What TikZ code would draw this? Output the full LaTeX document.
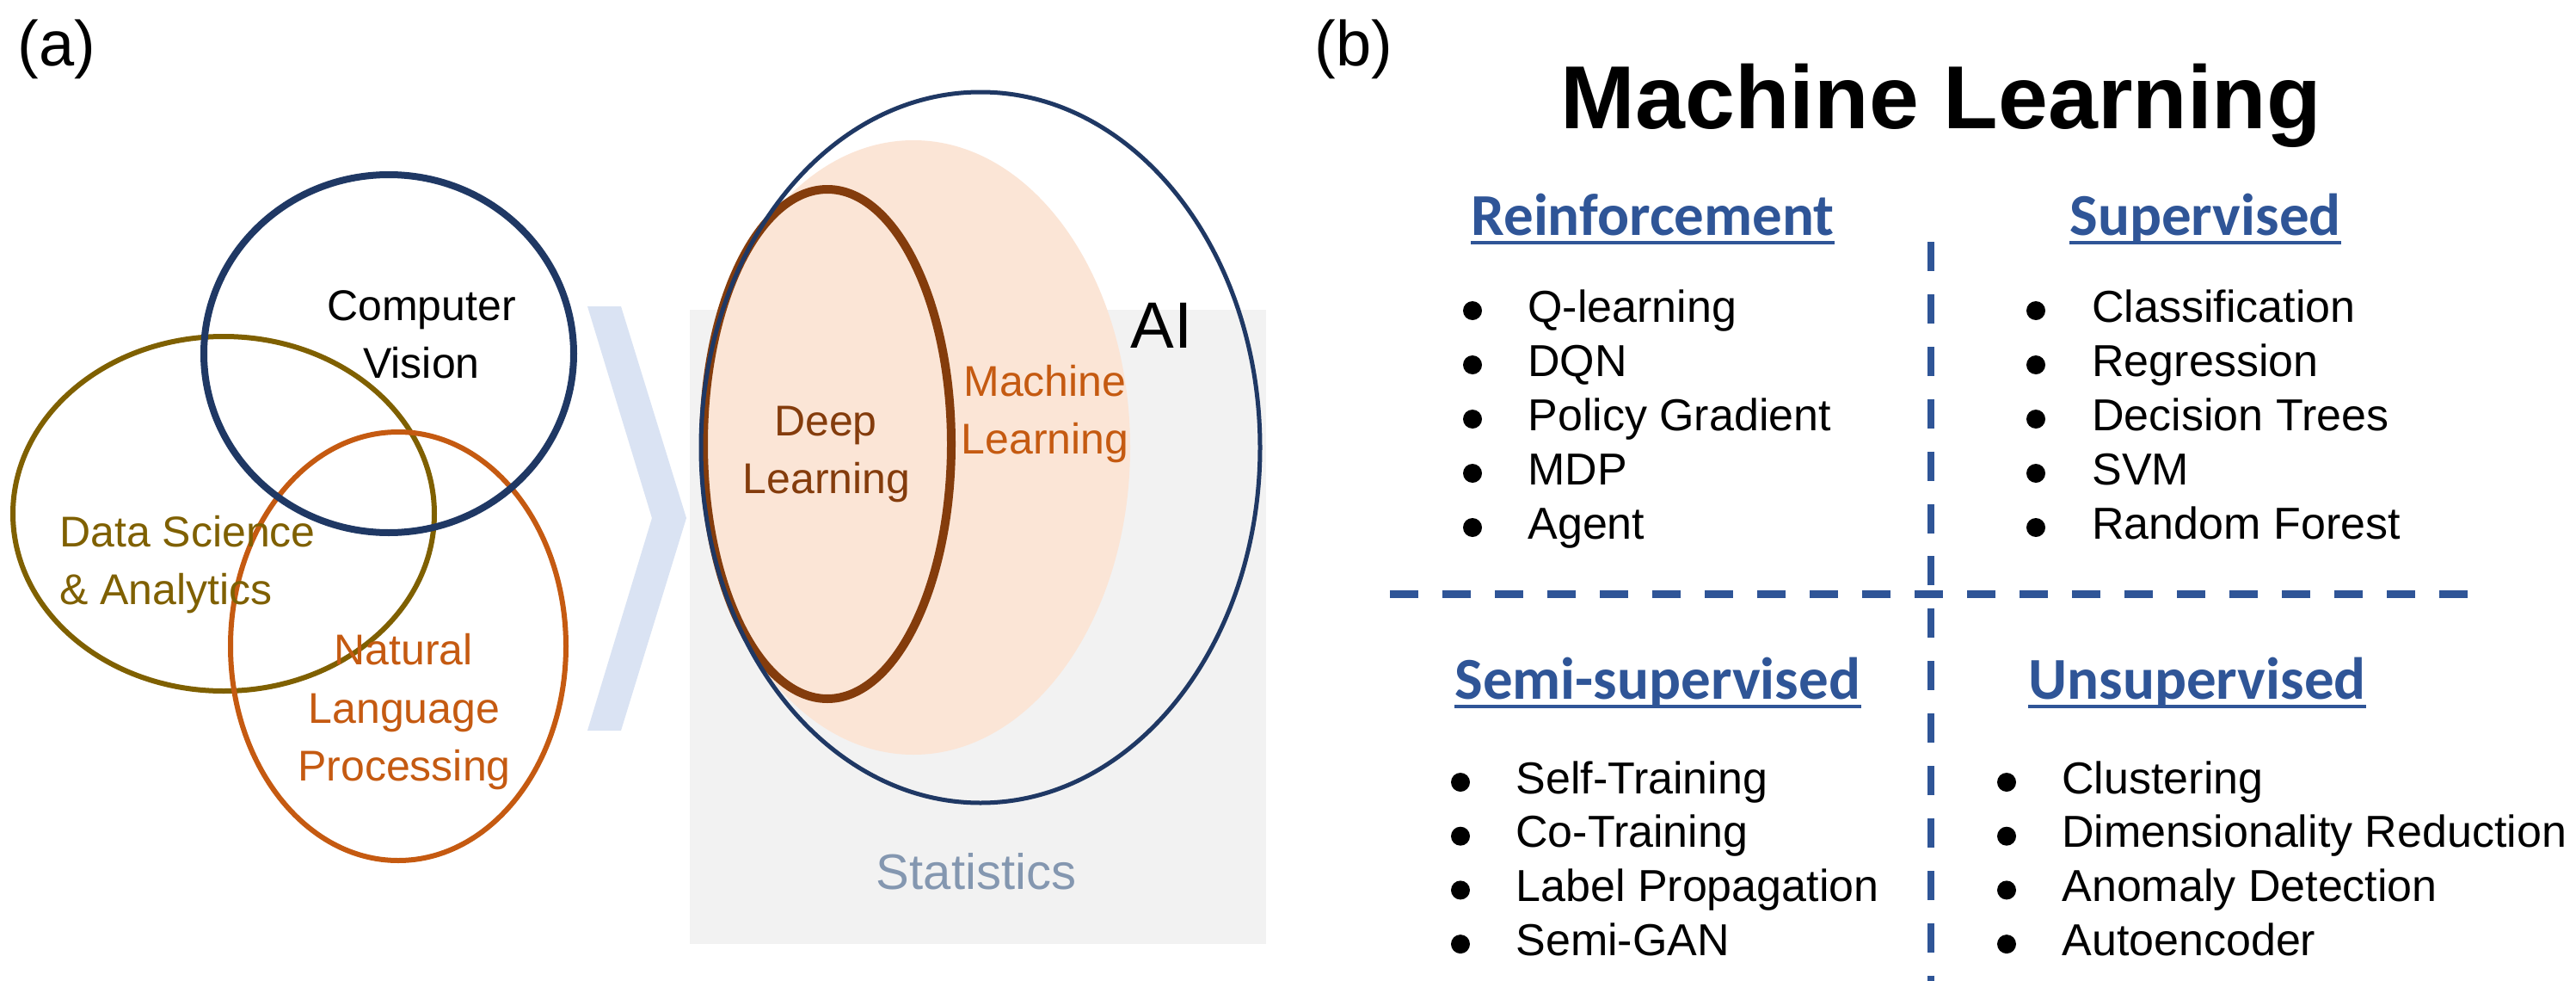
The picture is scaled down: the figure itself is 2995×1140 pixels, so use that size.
\documentclass[tikz,border=0pt]{standalone}
\usepackage{fontspec}
\setmainfont{Liberation Sans}
\newfontfamily\hdrfont{Carlito}
\definecolor{navy}{HTML}{1F3864}
\definecolor{olivec}{HTML}{7F6000}
\definecolor{nlporange}{HTML}{C55A11}
\definecolor{dlbrown}{HTML}{843C0C}
\definecolor{peach}{HTML}{FBE5D6}
\definecolor{statgray}{HTML}{F2F2F2}
\definecolor{chev}{HTML}{DAE3F3}
\definecolor{stattext}{HTML}{8497B0}
\definecolor{mlblue}{HTML}{2F5597}
\begin{document}
\begin{tikzpicture}[x=0.5pt,y=-0.5pt,
  lbl/.style={inner sep=0pt, anchor=base, font=\fontsize{25}{30}\selectfont},
  item/.style={inner sep=0pt, anchor=base west, font=\fontsize{26}{31}\selectfont},
  hdr/.style={inner sep=0pt, anchor=base west, text=mlblue, font=\hdrfont\bfseries\fontsize{34.5}{40}\selectfont},
  panel/.style={inner sep=0pt, anchor=base west, font=\fontsize{37}{44}\selectfont},
  uline/.style={draw=mlblue, line width=2.2pt},
  hdiv/.style={draw=mlblue, line width=4.5pt, dash pattern=on 16.5pt off 14pt},
  vdiv/.style={draw=mlblue, line width=4.3pt, dash pattern=on 17pt off 13.45pt},
  bulletdot/.style={fill=black}
]
\useasboundingbox (0,0) rectangle (2995,1140);
\fill[white] (0,0) rectangle (2995,1140);

% panel labels
\node[panel] (pa) at (20,76) {(a)};
\node[panel] (pb) at (1528,76) {(b)};

% ---------- panel (a) ----------
% chevron
\fill[chev] (683,356) -- (722,356) -- (798,602) -- (722,849) -- (683,849) -- (758,602) -- cycle;
% statistics background
\fill[statgray] (802,360) rectangle (1472,1097);

% Venn of fields
\draw[olivec, line width=3pt] (260,597) ellipse [x radius=245, y radius=206];
\draw[nlporange, line width=3pt] (463,751) ellipse [x radius=195, y radius=249];
\draw[navy, line width=4pt] (452,411) ellipse [x radius=215, y radius=208];

% nested AI / ML / DL
\begin{scope}
  \clip (1140,520) ellipse [x radius=325, y radius=413];
  \fill[peach] (1062,520) ellipse [x radius=252, y radius=357];
\end{scope}
\draw[dlbrown, line width=5pt] (962,516) ellipse [x radius=144, y radius=296];
\draw[navy, line width=2.5pt] (1140,520) ellipse [x radius=325, y radius=413];

% labels (a)
\node[lbl] (cv1) at (490,372) {Computer};
\node[lbl] (cv2) at (490,439) {Vision};
\node[lbl, anchor=base west, text=olivec] (ds1) at (69,635) {Data Science};
\node[lbl, anchor=base west, text=olivec] (ds2) at (69,702) {\& Analytics};
\node[lbl, text=nlporange] (nlp1) at (469,772) {Natural};
\node[lbl, text=nlporange] (nlp2) at (470,840) {Language};
\node[lbl, text=nlporange] (nlp3) at (470,907) {Processing};
\node[lbl, text=nlporange] (ml1) at (1215,460) {Machine};
\node[lbl, text=nlporange] (ml2) at (1215,527) {Learning};
\node[lbl, text=dlbrown] (dl1) at (960,506) {Deep};
\node[lbl, text=dlbrown] (dl2) at (961,573) {Learning};
\node[inner sep=0pt, anchor=base west, font=\fontsize{38}{44}\selectfont] (ai) at (1314,404) {AI};
\node[inner sep=0pt, anchor=base, text=stattext, font=\fontsize{29}{34}\selectfont] (stat) at (1135,1033) {Statistics};

% ---------- panel (b) ----------
\node[inner sep=0pt, anchor=base, font=\bfseries\fontsize{52}{60}\selectfont] (title) at (2257,149) {Machine Learning};

% dividers
\coordinate (hl) at (1616,690);
\coordinate (hr) at (2870,690);
\coordinate (vt) at (2245,281);
\coordinate (vb) at (2245,1150);
\draw[hdiv] (hl) -- (hr);
\draw[vdiv] (vt) -- (vb);

% headers
\node[hdr] (hR) at (1710,273) {Reinforcement};
\node[hdr] (hS) at (2406,273) {Supervised};
\node[hdr] (hSS) at (1691,812) {Semi-supervised};
\node[hdr] (hU) at (2358,812) {Unsupervised};
\foreach \h in {hR,hS,hSS,hU}{
  \draw[uline] ([yshift=-4.6pt]\h.base west) -- ([yshift=-4.6pt]\h.base east);
}

% lists
\foreach \t [count=\i from 0] in {Q-learning, DQN, Policy Gradient, MDP, Agent}{
  \fill[bulletdot] (1712,361+63*\i) circle [radius=11];
  \node[item] (re\i) at (1776,374+63*\i) {\t};
}
\foreach \t [count=\i from 0] in {Classification, Regression, Decision Trees, SVM, Random Forest}{
  \fill[bulletdot] (2367,361+63*\i) circle [radius=11];
  \node[item] (su\i) at (2432,374+63*\i) {\t};
}
\foreach \t [count=\i from 0] in {Self-Training, Co-Training, Label Propagation, Semi-GAN}{
  \fill[bulletdot] (1698,909+62.7*\i) circle [radius=11];
  \node[item] (ss\i) at (1762,922+62.7*\i) {\t};
}
\foreach \t [count=\i from 0] in {Clustering, Dimensionality Reduction, Anomaly Detection, Autoencoder}{
  \fill[bulletdot] (2333,909+62.7*\i) circle [radius=11];
  \node[item] (un\i) at (2397,922+62.7*\i) {\t};
}
\end{tikzpicture}
\end{document}
